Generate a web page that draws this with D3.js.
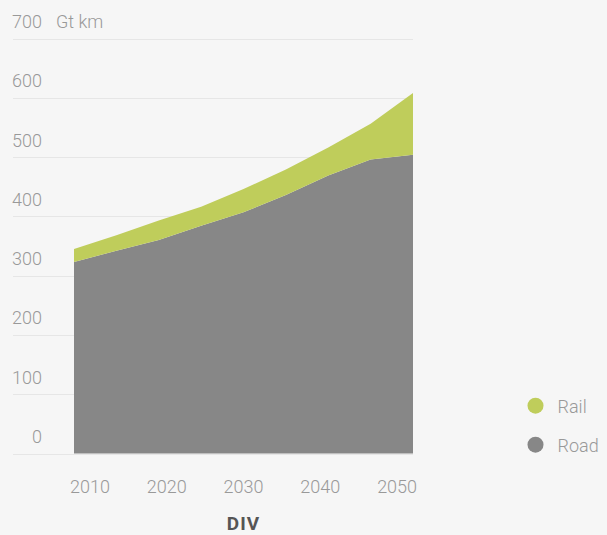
<!DOCTYPE html>
<html>
<head>
<meta charset="utf-8">
<script src="https://cdn.jsdelivr.net/npm/d3@7"></script>
<style>
  html, body { margin: 0; padding: 0; background: #f6f6f6; }
  svg { display: block; }
  text { font-family: Roboto, "Noto Sans", sans-serif; }
</style>
</head>
<body>
<svg id="chart" width="607" height="535"></svg>
<script>
// Data
const years = [2010, 2015, 2020, 2025, 2030, 2035, 2040, 2045, 2050];
const road  = [323, 342, 360, 384, 407, 436, 469, 496, 504];
const rail  = [22, 26, 33, 32, 39, 43, 47, 60, 104];
const seriesNames = ["Road", "Rail"];
const tickYears = ["2010", "2020", "2030", "2040", "2050"];
const yTicks = [0, 100, 200, 300, 400, 500, 600, 700];
const unitLabel = "Gt km";
const xTitle = "DIV";

const colors = { Road: "#878787", Rail: "#bfcd5b" };

const svg = d3.select("#chart");
const W = 607, H = 535;
svg.append("rect").attr("width", W).attr("height", H).attr("fill", "#f6f6f6");

const plotL = 74, plotR = 413;
const x = d3.scalePoint().domain(years).range([plotL, plotR]).padding(0);
const xLab = d3.scalePoint().domain(tickYears).range([plotL, plotR]).padding(0.207);
const y = d3.scaleLinear().domain([0, 700]).range([453.5, 38.5]);

// gridlines
svg.append("g").selectAll("line").data(yTicks).join("line")
  .attr("x1", 13).attr("x2", plotR)
  .attr("y1", d => Math.round(y(d)) + 0.5).attr("y2", d => Math.round(y(d)) + 0.5)
  .attr("stroke", "#e6e6e6").attr("stroke-width", 1.2);

// y labels
svg.append("g").selectAll("text").data(yTicks).join("text")
  .attr("x", 42).attr("y", d => y(d) - 10.5)
  .attr("text-anchor", "end")
  .attr("font-size", 18).attr("font-weight", 300)
  .attr("fill", "#999")
  .text(d => d);

svg.append("text").attr("x", 56).attr("y", y(700) - 10.5)
  .attr("font-size", 18).attr("font-weight", 300).attr("fill", "#999")
  .text(unitLabel);

// stacked area
const table = years.map((yr, i) => ({ year: yr, Road: road[i], Rail: rail[i] }));
const stack = d3.stack().keys(seriesNames)(table);
const area = d3.area()
  .x(d => x(d.data.year))
  .y0(d => y(d[0]))
  .y1(d => y(d[1]));

svg.append("g").selectAll("path").data(stack).join("path")
  .attr("d", area)
  .attr("fill", d => colors[d.key]);

// x labels
svg.append("g").selectAll("text").data(tickYears).join("text")
  .attr("x", d => xLab(d)).attr("y", 493)
  .attr("text-anchor", "middle")
  .attr("font-size", 18).attr("font-weight", 300)
  .attr("fill", "#999")
  .text(d => d);

svg.append("text")
  .attr("x", (plotL + plotR) / 2).attr("y", 530)
  .attr("text-anchor", "middle")
  .attr("font-size", 19).attr("font-weight", 700)
  .attr("fill", "#555")
  .attr("letter-spacing", 1)
  .text(xTitle);

// legend
const legendItems = ["Rail", "Road"];
const lg = svg.append("g").selectAll("g").data(legendItems).join("g")
  .attr("transform", (d, i) => `translate(535.5, ${405.7 + i * 39})`);
lg.append("circle").attr("r", 8).attr("fill", d => colors[d]);
lg.append("text").attr("x", 22).attr("y", 7.5)
  .attr("font-size", 18).attr("font-weight", 300)
  .attr("fill", "#999")
  .text(d => d);
</script>
</body>
</html>
